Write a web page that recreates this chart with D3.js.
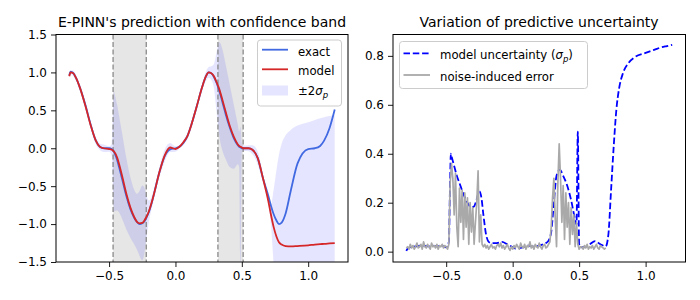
<!DOCTYPE html>
<html>
<head>
<meta charset="utf-8">
<script src="https://cdn.jsdelivr.net/npm/d3@7"></script>
<style>
body { margin: 0; background: #fff; }
svg { font-family: "DejaVu Sans", sans-serif; }
</style>
</head>
<body>
<div id="chart"></div>
<script>
// shared x grid for exact / model / sigma
var xs = [-0.80, -0.79, -0.77, -0.75, -0.72, -0.68, -0.64, -0.60, -0.57, -0.54,
          -0.50, -0.48, -0.47, -0.465, -0.46, -0.44, -0.42, -0.40, -0.37, -0.34,
          -0.31, -0.29, -0.27, -0.25, -0.235, -0.22, -0.20, -0.18, -0.16, -0.12,
          -0.08, -0.04, 0.00, 0.03, 0.06, 0.09, 0.12, 0.16, 0.20, 0.23,
          0.25, 0.27, 0.29, 0.31, 0.33, 0.355, 0.38, 0.41, 0.44, 0.47,
          0.48, 0.49, 0.50, 0.51, 0.52, 0.55, 0.58, 0.62, 0.66, 0.70,
          0.72, 0.74, 0.76, 0.78, 0.80, 0.83, 0.87, 0.92, 1.00, 1.05,
          1.09, 1.12, 1.16, 1.20];

var exact = [0.96, 1.01, 0.99, 0.93, 0.80, 0.58, 0.32, 0.10, 0.02, 0.00,
             0.00, -0.01, -0.03, -0.04, -0.06, -0.15, -0.28, -0.42, -0.63, -0.80,
             -0.92, -0.97, -1.00, -0.99, -0.965, -0.92, -0.84, -0.73, -0.59, -0.31,
             -0.10, -0.015, 0.00, 0.02, 0.07, 0.16, 0.31, 0.55, 0.80, 0.95,
             1.00, 0.99, 0.94, 0.86, 0.76, 0.60, 0.44, 0.27, 0.13, 0.04,
             0.02, 0.01, 0.00, 0.00, 0.00, 0.00, -0.02, -0.13, -0.40, -0.63,
             -0.76, -0.87, -0.95, -1.00, -0.98, -0.86, -0.55, -0.20, -0.01, 0.00,
             0.03, 0.10, 0.26, 0.51];

var model = [0.95, 1.00, 0.99, 0.93, 0.80, 0.57, 0.31, 0.10, 0.02, 0.00,
             -0.01, -0.02, -0.03, -0.04, -0.05, -0.12, -0.24, -0.38, -0.60, -0.78,
             -0.91, -0.97, -0.99, -0.985, -0.955, -0.91, -0.83, -0.72, -0.59, -0.31,
             -0.09, 0.01, -0.01, 0.02, 0.08, 0.16, 0.31, 0.55, 0.80, 0.95,
             1.00, 0.99, 0.95, 0.87, 0.78, 0.63, 0.47, 0.29, 0.15, 0.05,
             0.03, 0.02, 0.01, 0.00, 0.00, 0.00, -0.02, -0.13, -0.40, -0.70,
             -0.88, -1.04, -1.16, -1.24, -1.27, -1.29, -1.295, -1.29, -1.28, -1.27,
             -1.265, -1.26, -1.255, -1.25];

var sigma = [0.003, 0.012, 0.018, 0.020, 0.022, 0.025, 0.022, 0.024, 0.022, 0.025,
             0.018, 0.04, 0.30, 0.40, 0.39, 0.35, 0.31, 0.28, 0.235, 0.20,
             0.18, 0.185, 0.215, 0.247, 0.22, 0.15, 0.07, 0.04, 0.035, 0.035,
             0.04, 0.03, 0.018, 0.012, 0.015, 0.02, 0.025, 0.02, 0.025, 0.03,
             0.035, 0.045, 0.08, 0.20, 0.31, 0.335, 0.31, 0.27, 0.21, 0.13,
             0.11, 0.49, 0.03, 0.02, 0.018, 0.02, 0.03, 0.043, 0.03, 0.022,
             0.07, 0.25, 0.43, 0.58, 0.665, 0.73, 0.77, 0.795, 0.812, 0.822,
             0.83, 0.835, 0.84, 0.845];

// band edges read off the picture where they are not model +/- 2 sigma: [x, lower, upper]
var bandEdits = [[0.48, -0.25, 0.22], [0.49, -1.7, 0.28]];

// noise-induced error, sampled every 0.01 from -0.80 to 0.70
var noiseErr = [0.015, 0.02, 0.01, 0.03, 0.015, 0.025, 0.01, 0.02, 0.035, 0.015,
                0.02, 0.03, 0.01, 0.04, 0.02, 0.015, 0.03, 0.02, 0.01, 0.035,
                0.02, 0.025, 0.015, 0.03, 0.01, 0.025, 0.02, 0.03, 0.015, 0.025,
                0.02, 0.01, 0.03,
                0.28, 0.36, 0.30, 0.15, 0.32, 0.10, 0.02, 0.26, 0.12, 0.25,
                0.05, 0.24, 0.10, 0.22, 0.03, 0.20, 0.08, 0.18, 0.03, 0.12,
                0.20, 0.33, 0.04, 0.15, 0.03, 0.02,
                0.03, 0.015, 0.025, 0.01, 0.02, 0.03, 0.015, 0.02, 0.01, 0.025,
                0.03, 0.02, 0.035, 0.015, 0.025, 0.01, 0.02, 0.03, 0.015, 0.005,
                0.02, 0.01, 0.025, 0.015, 0.03, 0.02, 0.01, 0.035, 0.02, 0.015,
                0.03, 0.01, 0.025, 0.02, 0.04, 0.015, 0.025, 0.01, 0.03, 0.02,
                0.015, 0.035, 0.02, 0.01, 0.025, 0.03, 0.015, 0.02, 0.03,
                0.04, 0.10, 0.22, 0.30, 0.14, 0.02, 0.28, 0.44, 0.30, 0.12,
                0.27, 0.05, 0.24, 0.10, 0.20, 0.03, 0.18, 0.07, 0.15, 0.02,
                0.12, 0.03, 0.01, 0.02,
                0.02, 0.01, 0.025, 0.015, 0.03, 0.01, 0.02, 0.015, 0.025, 0.01,
                0.02, 0.03, 0.015, 0.01, 0.025, 0.02, 0.015, 0.01, 0.015];
var noiseX = d3.range(noiseErr.length).map(function(i) { return -0.8 + i * 0.01; });

var gapRegions = [[-0.47, -0.22], [0.32, 0.51]];
var xTicks = [-0.5, 0.0, 0.5, 1.0];
var leftYTicks = [-1.5, -1.0, -0.5, 0.0, 0.5, 1.0, 1.5];
var rightYTicks = [0.0, 0.2, 0.4, 0.6, 0.8];

var pts = xs.map(function(x, i) {
    var d = {x: x, exact: exact[i], model: model[i], sigma: sigma[i],
             lo: model[i] - 2 * sigma[i], hi: model[i] + 2 * sigma[i]};
    bandEdits.forEach(function(e) {
        if (e[0] === x) { d.lo = e[1]; d.hi = e[2]; }
    });
    return d;
});
var noisePts = noiseX.map(function(x, i) { return {x: x, v: noiseErr[i]}; });

var fmt = d3.format(".1f");
var plotTop = 34.5, plotBottom = 262;
var fs = "12px";
var legendFs = "11.7px";

var svg = d3.select("#chart")
    .append("svg")
    .attr("width", 700)
    .attr("height", 300);

var defs = svg.append("defs");

function styleAxis(g) {
    g.select(".domain").remove();
    g.selectAll(".tick line").attr("stroke", "#000").attr("stroke-width", 0.9);
    g.selectAll(".tick text").attr("font-size", fs).attr("fill", "#000")
        .attr("font-family", "DejaVu Sans");
}

function frame(x0, x1) {
    svg.append("rect")
        .attr("x", x0).attr("y", plotTop)
        .attr("width", x1 - x0).attr("height", plotBottom - plotTop)
        .attr("fill", "none").attr("stroke", "#000").attr("stroke-width", 1);
}

// ---------------- left panel ----------------
var x1 = d3.scaleLinear().domain([-0.9, 1.3]).range([56, 348]);
var y1 = d3.scaleLinear().domain([-1.5, 1.5]).range([plotBottom, plotTop]);

defs.append("clipPath").attr("id", "clip1")
    .append("rect").attr("x", 56).attr("y", plotTop).attr("width", 292).attr("height", plotBottom - plotTop);

var p1 = svg.append("g").attr("clip-path", "url(#clip1)");

p1.selectAll(".gap")
    .data(gapRegions)
    .enter().append("rect")
    .attr("x", function(d) { return x1(d[0]); })
    .attr("width", function(d) { return x1(d[1]) - x1(d[0]); })
    .attr("y", plotTop).attr("height", plotBottom - plotTop)
    .attr("fill", "gray").attr("fill-opacity", 0.2);

p1.append("path")
    .datum(pts)
    .attr("fill", "blue").attr("fill-opacity", 0.1)
    .attr("d", d3.area()
        .curve(d3.curveMonotoneX)
        .x(function(d) { return x1(d.x); })
        .y0(function(d) { return y1(d.lo); })
        .y1(function(d) { return y1(d.hi); }));

p1.selectAll(".edge")
    .data(d3.merge(gapRegions))
    .enter().append("line")
    .attr("x1", function(d) { return x1(d); }).attr("x2", function(d) { return x1(d); })
    .attr("y1", plotTop).attr("y2", plotBottom)
    .attr("stroke", "gray").attr("stroke-width", 1.2).attr("stroke-dasharray", "5,2.5");

p1.append("path")
    .datum(pts)
    .attr("fill", "none").attr("stroke", "#4169e1").attr("stroke-width", 1.8)
    .attr("d", d3.line().curve(d3.curveMonotoneX)
        .x(function(d) { return x1(d.x); })
        .y(function(d) { return y1(d.exact); }));

p1.append("path")
    .datum(pts)
    .attr("fill", "none").attr("stroke", "#d62728").attr("stroke-width", 1.8)
    .attr("d", d3.line().curve(d3.curveMonotoneX)
        .x(function(d) { return x1(d.x); })
        .y(function(d) { return y1(d.model); }));

frame(56, 348);

svg.append("g").attr("transform", "translate(0," + plotBottom + ")")
    .call(d3.axisBottom(x1).tickValues(xTicks).tickFormat(fmt).tickSizeInner(5).tickSizeOuter(0).tickPadding(4))
    .call(styleAxis);
svg.append("g").attr("transform", "translate(56,0)")
    .call(d3.axisLeft(y1).tickValues(leftYTicks).tickFormat(fmt).tickSizeInner(5).tickSizeOuter(0).tickPadding(4))
    .call(styleAxis);

svg.append("text")
    .attr("x", 202).attr("y", 27)
    .attr("text-anchor", "middle").attr("font-size", "14px")
    .text("E-PINN's prediction with confidence band");

// legend left
var lg1 = svg.append("g");
lg1.append("rect")
    .attr("x", 257.5).attr("y", 40).attr("width", 84).attr("height", 66).attr("rx", 3)
    .attr("fill", "#fff").attr("fill-opacity", 0.8).attr("stroke", "#cccccc");
lg1.append("line").attr("x1", 262).attr("x2", 288).attr("y1", 49.7).attr("y2", 49.7)
    .attr("stroke", "#4169e1").attr("stroke-width", 1.8);
lg1.append("line").attr("x1", 262).attr("x2", 288).attr("y1", 69.3).attr("y2", 69.3)
    .attr("stroke", "#d62728").attr("stroke-width", 1.8);
lg1.append("rect").attr("x", 262).attr("y", 85.5).attr("width", 26).attr("height", 10)
    .attr("fill", "blue").attr("fill-opacity", 0.1);
lg1.append("text").attr("x", 298).attr("y", 55.5).attr("font-size", legendFs).text("exact");
lg1.append("text").attr("x", 298).attr("y", 75).attr("font-size", legendFs).text("model");
var t3 = lg1.append("text").attr("x", 298).attr("y", 94.5).attr("font-size", legendFs);
t3.append("tspan").text("±2");
t3.append("tspan").attr("font-style", "italic").text("σ");
t3.append("tspan").attr("font-style", "italic").attr("font-size", "8.5px").attr("dy", 3).text("p");

// ---------------- right panel ----------------
var x2 = d3.scaleLinear().domain([-0.9, 1.3]).range([393, 685.5]);
var y2 = d3.scaleLinear().domain([-0.0423, 0.8873]).range([plotBottom, plotTop]);

defs.append("clipPath").attr("id", "clip2")
    .append("rect").attr("x", 393).attr("y", plotTop).attr("width", 292.5).attr("height", plotBottom - plotTop);

var p2 = svg.append("g").attr("clip-path", "url(#clip2)");

p2.append("path")
    .datum(pts)
    .attr("fill", "none").attr("stroke", "blue").attr("stroke-width", 1.8)
    .attr("stroke-dasharray", "6.5,2.8")
    .attr("d", d3.line().curve(d3.curveMonotoneX)
        .x(function(d) { return x2(d.x); })
        .y(function(d) { return y2(d.sigma); }));

p2.append("path")
    .datum(noisePts)
    .attr("fill", "none").attr("stroke", "#a9a9a9").attr("stroke-width", 1.7)
    .attr("stroke-linejoin", "round")
    .attr("d", d3.line()
        .x(function(d) { return x2(d.x); })
        .y(function(d) { return y2(d.v); }));

frame(393, 685.5);

svg.append("g").attr("transform", "translate(0," + plotBottom + ")")
    .call(d3.axisBottom(x2).tickValues(xTicks).tickFormat(fmt).tickSizeInner(5).tickSizeOuter(0).tickPadding(4))
    .call(styleAxis);
svg.append("g").attr("transform", "translate(393,0)")
    .call(d3.axisLeft(y2).tickValues(rightYTicks).tickFormat(fmt).tickSizeInner(5).tickSizeOuter(0).tickPadding(4))
    .call(styleAxis);

svg.append("text")
    .attr("x", 539).attr("y", 27)
    .attr("text-anchor", "middle").attr("font-size", "14px")
    .text("Variation of predictive uncertainty");

// legend right
var lg2 = svg.append("g");
lg2.append("rect")
    .attr("x", 399.5).attr("y", 41.5).attr("width", 188).attr("height", 47).attr("rx", 3)
    .attr("fill", "#fff").attr("fill-opacity", 0.8).attr("stroke", "#cccccc");
lg2.append("line").attr("x1", 403.5).attr("x2", 430).attr("y1", 53.3).attr("y2", 53.3)
    .attr("stroke", "blue").attr("stroke-width", 1.8).attr("stroke-dasharray", "6.5,2.8");
lg2.append("line").attr("x1", 403.5).attr("x2", 430).attr("y1", 75).attr("y2", 75)
    .attr("stroke", "#a9a9a9").attr("stroke-width", 1.8);
var t4 = lg2.append("text").attr("x", 440).attr("y", 58.5).attr("font-size", legendFs);
t4.append("tspan").text("model uncertainty (");
t4.append("tspan").attr("font-style", "italic").text("σ");
t4.append("tspan").attr("font-style", "italic").attr("font-size", "8.5px").attr("dy", 3).text("p");
t4.append("tspan").attr("dy", -3).text(")");
lg2.append("text").attr("x", 440).attr("y", 80.5).attr("font-size", legendFs).text("noise-induced error");
</script>
</body>
</html>
